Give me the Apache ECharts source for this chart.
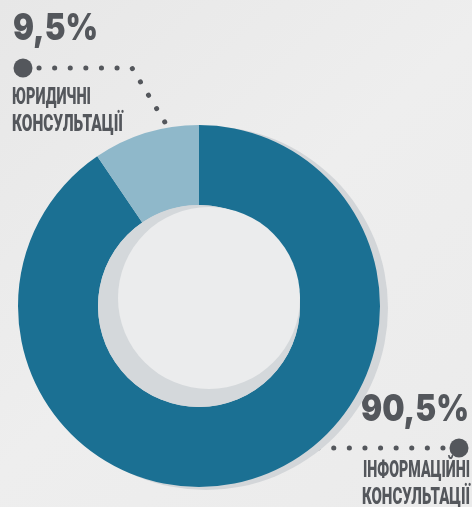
<!DOCTYPE html>
<html>
<head>
<meta charset="utf-8">
<script src="https://cdn.jsdelivr.net/npm/echarts@6/dist/echarts.min.js"></script>
<style>
  html, body { margin: 0; padding: 0; background: #ebebeb; }
  #chart { width: 472px; height: 507px; }
</style>
</head>
<body>
<div id="chart"></div>
<script>
// дані
var names = ['ІНФОРМАЦІЙНІ КОНСУЛЬТАЦІЇ', 'ЮРИДИЧНІ КОНСУЛЬТАЦІЇ'];
var values = [90.5, 9.5];
var colors = ['#1b7093', '#8fb8ca'];

var textColor = '#54575c';
var bigFont = '900 37px Inter, Roboto, sans-serif';
var smallFont = '900 24px Roboto, sans-serif';

// ширина тексту, щоб стиснути підпис до потрібної ширини
var ctx = document.createElement('canvas').getContext('2d');
function fitScale(text, font, target) {
  ctx.font = font;
  return target / ctx.measureText(text).width;
}

function pct(v) {
  return String(v).replace('.', ',') + '%';
}

function nameLines(i) {
  return names[i].split(' ');
}

function label(text, font, x, y, align, width) {
  return {
    type: 'text', x: x, y: y, scaleX: fitScale(text, font, width), silent: true,
    style: {
      text: text, fill: textColor, font: font,
      align: align, verticalAlign: 'middle'
    }
  };
}

function dots(points) {
  return {
    type: 'polyline', silent: true,
    shape: { points: points },
    style: { stroke: textColor, lineWidth: 5, lineDash: [0.1, 15.5], lineCap: 'round', fill: null }
  };
}

var eChart = echarts.init(document.getElementById('chart'));

var l1 = nameLines(1), l0 = nameLines(0);

var option = {
  backgroundColor: {
    type: 'linear', x: 0, y: 0, x2: 1, y2: 1,
    colorStops: [{ offset: 0, color: '#e7e7e7' }, { offset: 0.5, color: '#eeeeee' }, { offset: 1, color: '#ebebeb' }]
  },
  animation: false,
  series: [
    {
      // тінь
      type: 'pie', silent: true, z: 1,
      center: [206, 308], radius: [0, 182],
      label: { show: false }, labelLine: { show: false },
      data: [{ value: 1, itemStyle: { color: '#d3d6d9' } }]
    },
    {
      type: 'pie', z: 2,
      center: [199, 306], radius: [101, 181],
      startAngle: 90, clockwise: true,
      label: { show: false }, labelLine: { show: false },
      emphasis: { disabled: true },
      data: values.map(function (v, i) {
        return { name: names[i], value: v, itemStyle: { color: colors[i] } };
      })
    },
    {
      type: 'pie', silent: true, z: 3,
      center: [199, 306], radius: [0, 101],
      label: { show: false }, labelLine: { show: false },
      data: [{ value: 1, itemStyle: { color: '#d4d8db' } }]
    },
    {
      type: 'pie', silent: true, z: 4,
      center: [209, 298], radius: [0, 91],
      label: { show: false }, labelLine: { show: false },
      data: [{ value: 1, itemStyle: { color: '#ebeced' } }]
    }
  ],
  graphic: [
    // 9,5%
    label(pct(values[1]), bigFont, 13, 29, 'left', 85),
    dots([[39, 68], [132, 68], [186, 157]]),
    { type: 'circle', silent: true, shape: { cx: 23, cy: 68, r: 9.5 }, style: { fill: textColor } },
    label(l1[0], smallFont, 12, 98, 'left', 79),
    label(l1[1], smallFont, 12, 125, 'left', 111),

    // 90,5%
    label(pct(values[0]), bigFont, 469, 410, 'right', 108),
    dots([[443, 448], [266, 448]]),
    { type: 'circle', silent: true, shape: { cx: 459, cy: 448, r: 9.5 }, style: { fill: textColor } },
    label(l0[0], smallFont, 470, 471, 'right', 107),
    label(l0[1], smallFont, 470, 498, 'right', 108)
  ]
};

eChart.setOption(option);
</script>
</body>
</html>
